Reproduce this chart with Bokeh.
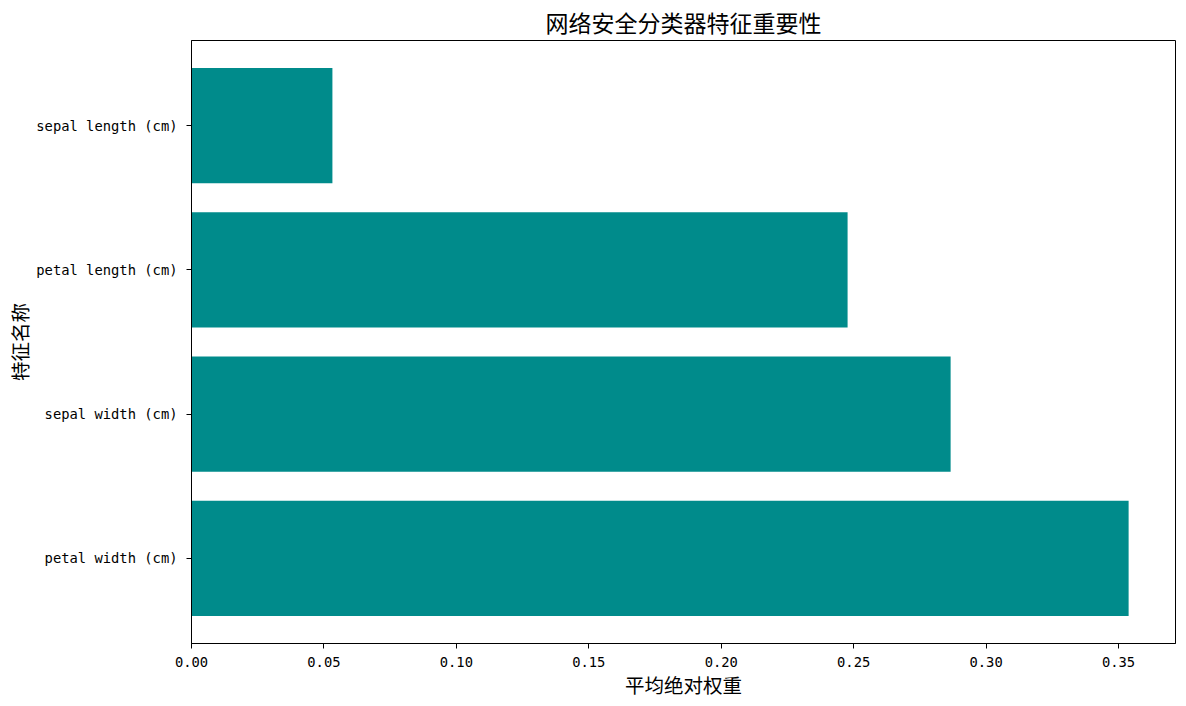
from bokeh.plotting import figure
from bokeh.models import FactorRange, Range1d, NumeralTickFormatter, FixedTicker
from bokeh.embed import file_html
from bokeh.resources import INLINE

features = ["petal width (cm)", "sepal width (cm)", "petal length (cm)", "sepal length (cm)"]
importance = [0.3538, 0.2866, 0.2477, 0.0532]
x_ticks = [0.0, 0.05, 0.10, 0.15, 0.20, 0.25, 0.30, 0.35]

CJK = "Noto Sans CJK SC"
MONO = "DejaVu Sans Mono"

p = figure(width=1186, height=706, output_backend="svg", toolbar_location=None,
           y_range=FactorRange(factors=features, range_padding=0.045, range_padding_units="percent"),
           x_range=Range1d(0, 0.3715),
           min_border_left=191, min_border_right=11, min_border_top=40, min_border_bottom=63)

p.hbar(y=features, right=importance, left=0, height=0.8, color="#008B8B", line_color=None)

p.title.text = "网络安全分类器特征重要性"
p.title.align = "center"
p.title.text_font = CJK
p.title.text_font_size = "23px"
p.title.text_font_style = "normal"
p.title.text_color = "black"
p.title.standoff = 4

p.xaxis.ticker = FixedTicker(ticks=x_ticks)
p.xaxis.formatter = NumeralTickFormatter(format="0.00")
p.xaxis.axis_label = "平均绝对权重"
p.yaxis.axis_label = "特征名称"
for ax in (p.xaxis[0], p.yaxis[0]):
    ax.axis_label_text_font = CJK
    ax.axis_label_text_font_size = "19.5px"
    ax.axis_label_text_font_style = "normal"
    ax.axis_label_text_color = "black"
    ax.major_label_text_font = MONO
    ax.major_label_text_font_size = "13.8px"
    ax.major_label_text_color = "black"
    ax.axis_line_color = "black"
    ax.major_tick_line_color = "black"
    ax.major_tick_out = 5
    ax.major_tick_in = 0
    ax.minor_tick_line_color = None
p.xaxis.axis_label_standoff = 0
p.yaxis.axis_label_standoff = -1
p.xaxis.major_label_standoff = 8
p.yaxis.major_label_standoff = 9

p.xgrid.grid_line_color = None
p.ygrid.grid_line_color = None
p.outline_line_color = "black"
p.outline_line_width = 1
p.background_fill_color = "white"
p.border_fill_color = "white"

open("out.html", "w").write(file_html(p, INLINE))
